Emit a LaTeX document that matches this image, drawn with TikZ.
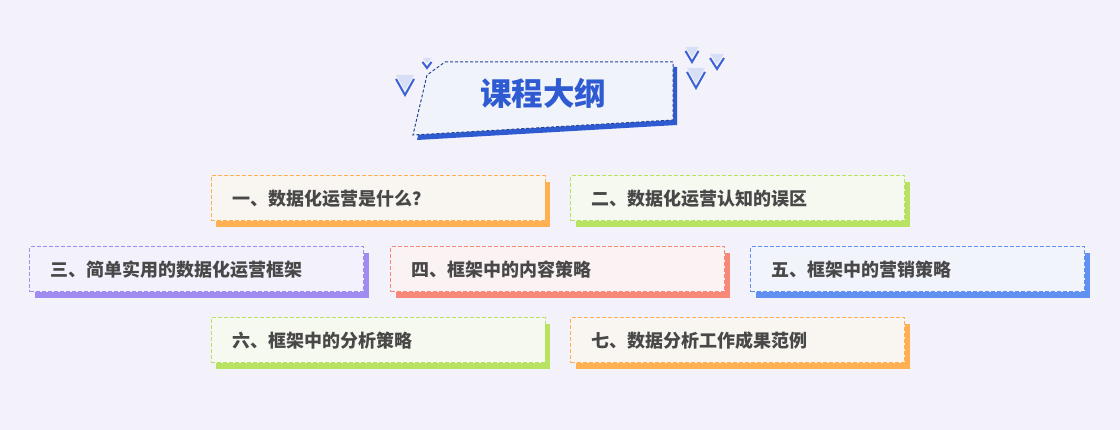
\documentclass[tikz,border=0pt]{standalone}
\usepackage{fontspec}
\newfontfamily\cjk{Noto Sans CJK SC}
\usepackage{xcolor}
\definecolor{ColBg}{RGB}{243,242,250}
\definecolor{ColTitle}{RGB}{241,243,250}
\definecolor{ColBlue}{RGB}{47,91,210}
\definecolor{ColDash}{RGB}{38,70,150}
\definecolor{ColTri}{RGB}{214,223,246}
\definecolor{ColVee}{RGB}{58,98,211}
\definecolor{ColText}{RGB}{72,72,72}
\definecolor{ColOrange}{RGB}{255,176,82}
\definecolor{ColGreen}{RGB}{184,226,98}
\definecolor{ColPurple}{RGB}{160,140,240}
\definecolor{ColCoral}{RGB}{248,136,120}
\definecolor{ColSky}{RGB}{96,144,240}
\definecolor{FillOrange}{RGB}{249,246,241}
\definecolor{FillGreen}{RGB}{246,249,240}
\definecolor{FillPurple}{RGB}{243,241,251}
\definecolor{FillCoral}{RGB}{250,242,243}
\definecolor{FillSky}{RGB}{242,244,251}
\usepackage{tikz}
\usetikzlibrary{shadows}
\tikzset{Box/.style 2 args={draw=#1,fill=#2,line width=1pt,
  dash pattern=on 4pt off 2pt,minimum height=45pt,text width=292pt,
  inner xsep=21pt,inner ysep=0pt,align=left,text=ColText,
  font=\cjk\bfseries\fontsize{18}{21}\selectfont,
  drop shadow={shadow xshift=5pt,shadow yshift=-6pt,opacity=1,fill=#1}}}
\tikzstyle{TitleEdge}=[draw=ColDash,line width=1pt,dash pattern=on 3pt off 2pt]
\tikzstyle{TitleText}=[text=ColBlue,font=\cjk\bfseries\fontsize{31.5}{34}\selectfont]
\tikzstyle{Vee}=[draw=ColVee,line width=2pt,line join=miter]

\begin{document}
\begin{tikzpicture}[x=1pt,y=-1pt]
        \useasboundingbox (0,0) rectangle (1120,430);
        \fill[ColBg] (0,0) rectangle (1120,430);
        % title
        \fill[ColBlue,xshift=4pt,yshift=-5pt] (445,62) -- (673,62) -- (673,120)
            -- (413,135) -- (427,75) -- cycle;
        \draw[TitleEdge,fill=ColTitle] (445,62) -- (673,62) -- (673,120)
            -- (413,135) -- (427,75) -- cycle;
        \node[TitleText](title)at(543,93){课程大纲};
        \foreach \cx/\ty/\w/\h in {405/79/18/16,427/62/9/6,692/51/13/11,
            717/58/14/11,696/72/18/16}{
            \fill[ColTri] (\cx-\w/2,\ty-4) -- (\cx+\w/2,\ty-4) -- (\cx,\ty+\h-5) -- cycle;
            \draw[Vee] (\cx-\w/2,\ty) -- (\cx,\ty+\h) -- (\cx+\w/2,\ty);
        }
        % items
        \node[Box={ColOrange}{FillOrange}](1)at(378,198.5){一、数据化运营是什么？};
        \node[Box={ColGreen}{FillGreen}](2)at(737.5,198.5){二、数据化运营认知的误区};
        \node[Box={ColPurple}{FillPurple}](3)at(196.5,269.5){三、简单实用的数据化运营框架};
        \node[Box={ColCoral}{FillCoral}](4)at(557.5,269.5){四、框架中的内容策略};
        \node[Box={ColSky}{FillSky}](5)at(917.5,269.5){五、框架中的营销策略};
        \node[Box={ColGreen}{FillGreen}](6)at(378,340.5){六、框架中的分析策略};
        \node[Box={ColOrange}{FillOrange}](7)at(737.5,340.5){七、数据分析工作成果范例};
    \end{tikzpicture}
\end{document}
